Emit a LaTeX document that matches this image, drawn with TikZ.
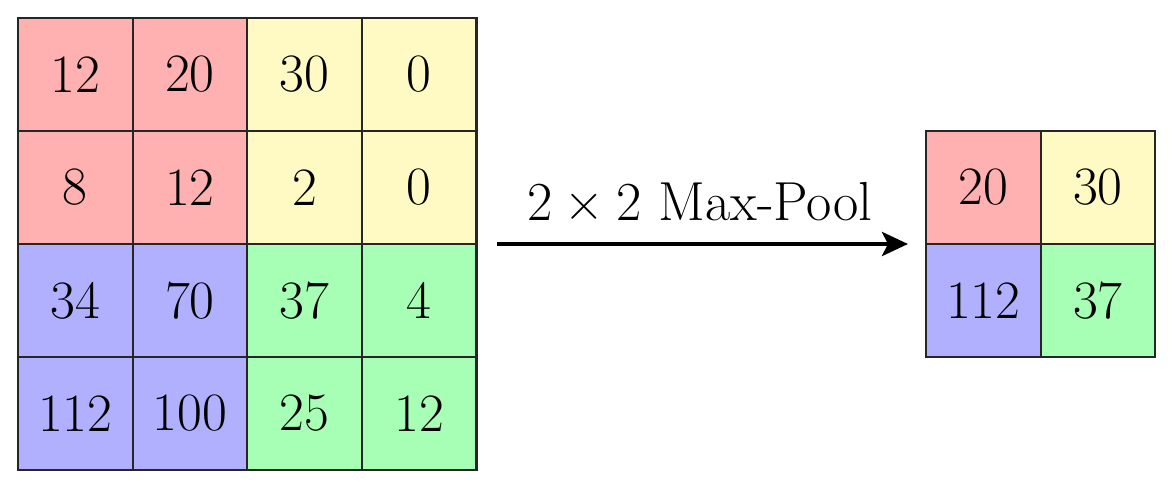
\documentclass[tikz,border=0pt]{standalone}
\usetikzlibrary{arrows.meta}
\definecolor{cred}{HTML}{FFB0B0}
\definecolor{cyel}{HTML}{FFFAC4}
\definecolor{cblu}{HTML}{B0B0FF}
\definecolor{cgrn}{HTML}{A6FFB4}
\begin{document}
\begin{tikzpicture}[x=1pt,y=-1pt,
  cell/.style={draw=black!85,line width=2.2pt,minimum width=114.6pt,minimum height=113pt,inner sep=0pt,outer sep=0pt,font=\fontsize{54}{60}\selectfont},
  rc/.style={cell,fill=cred}, yc/.style={cell,fill=cyel},
  bc/.style={cell,fill=cblu}, gc/.style={cell,fill=cgrn},
  conn/.style={line width=4.5pt,-{Stealth[length=26pt,width=24pt,inset=6pt]}},
  lbl/.style={font=\fontsize{55}{60}\selectfont,anchor=base}]
\useasboundingbox (0,0) rectangle (1172,489);
% left grid: x from 18 to 476, y from 18 to 470
\def\cw{114.6}
\def\ch{113}
\node[rc] (a11) at (18+57.3,18+56.5) {12};
\node[rc] (a12) at (18+57.3+\cw,18+56.5) {20};
\node[yc] (a13) at (18+57.3+2*\cw,18+56.5) {30};
\node[yc] (a14) at (18+57.3+3*\cw,18+56.5) {0};
\node[rc] (a21) at (18+57.3,18+56.5+\ch) {8};
\node[rc] (a22) at (18+57.3+\cw,18+56.5+\ch) {12};
\node[yc] (a23) at (18+57.3+2*\cw,18+56.5+\ch) {2};
\node[yc] (a24) at (18+57.3+3*\cw,18+56.5+\ch) {0};
\node[bc] (a31) at (18+57.3,18+56.5+2*\ch) {34};
\node[bc] (a32) at (18+57.3+\cw,18+56.5+2*\ch) {70};
\node[gc] (a33) at (18+57.3+2*\cw,18+56.5+2*\ch) {37};
\node[gc] (a34) at (18+57.3+3*\cw,18+56.5+2*\ch) {4};
\node[bc] (a41) at (18+57.3,18+56.5+3*\ch) {112};
\node[bc] (a42) at (18+57.3+\cw,18+56.5+3*\ch) {100};
\node[gc] (a43) at (18+57.3+2*\cw,18+56.5+3*\ch) {25};
\node[gc] (a44) at (18+57.3+3*\cw,18+56.5+3*\ch) {12};
% right grid: x 926 to 1155, y 131 to 357
\node[rc] (b11) at (926+57.3,131+56.5) {20};
\node[yc] (b12) at (926+57.3+\cw,131+56.5) {30};
\node[bc] (b21) at (926+57.3,131+56.5+\ch) {112};
\node[gc] (b22) at (926+57.3+\cw,131+56.5+\ch) {37};
% arrow
\coordinate (s) at (497,244);
\coordinate (e) at (908,244);
\draw[conn] (s) -- (e);
\node[lbl] (t) at (700,220) {2\hspace{0.222em}×\hspace{0.222em}2 Max-Pool};
\end{tikzpicture}
\end{document}
